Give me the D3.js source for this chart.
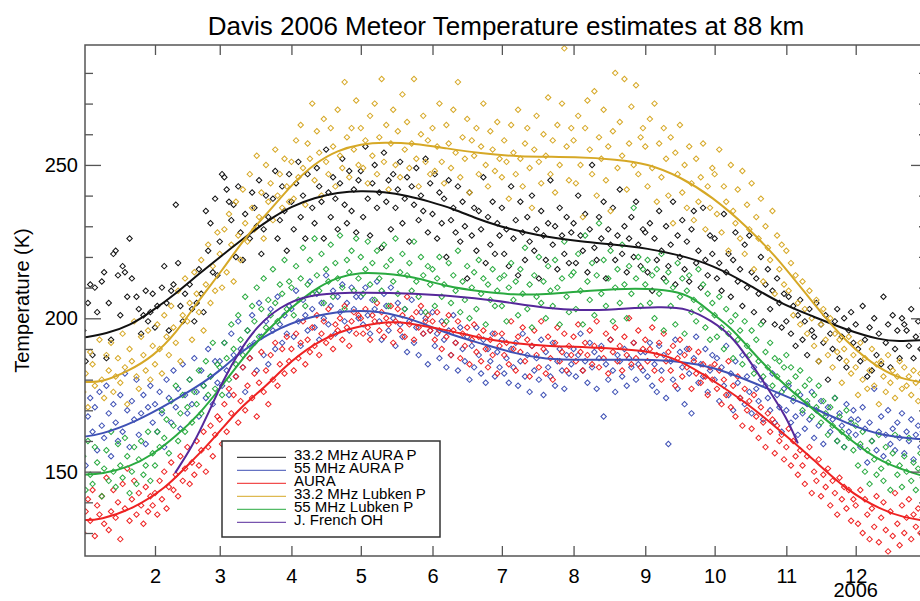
<!DOCTYPE html>
<html>
<head>
<meta charset="utf-8">
<script src="https://cdn.jsdelivr.net/npm/d3@7"></script>
<style>
  body { margin: 0; background: #fff; }
  svg { display: block; font-family: "Liberation Sans", Arial, Helvetica, sans-serif; }
</style>
</head>
<body>
<script>
// Daily temperature estimates (K), one row per month, null = no estimate that day

const blackT = [
  [196,186,205,211,188,210,202,null,212,215,187,205,193,221,222,214,201,217,215,207,226,213,null,207,203,195,201,209,199,202,208],
  [197,204,null,210,217,205,196,209,211,237,218,204,199,208,null,211,203,199,205,216,208,202,235,222,231,215,239,214],
  [225,247,246,242,238,232,237,220,243,228,219,234,null,226,241,236,230,245,221,229,240,233,null,239,248,226,232,243,235,222,247],
  [238,229,244,251,233,240,226,247,null,236,231,249,243,238,226,255,241,233,246,239,229,244,252,237,231,248,235,242,228,245],
  [248,233,256,239,227,244,250,236,241,223,254,238,245,229,247,236,242,251,231,239,246,225,243,237,249,232,240,235,252,228,244],
  [234,247,226,241,231,239,220,245,232,236,228,243,225,238,230,213,241,227,236,222,235,229,246,218,233,224,238,221,231,227],
  [236,221,229,217,243,226,232,214,238,228,219,233,225,240,222,229,213,235,227,219,231,245,224,230,216,236,227,221,233,218,228],
  [231,218,240,227,222,234,215,229,250,223,219,233,226,238,213,229,224,236,219,227,242,221,230,215,226,233,220,238,224,217,229],
  [228,215,231,209,226,219,235,222,213,230,217,224,238,211,227,220,232,216,225,212,229,235,218,222,210,236,219,214,227,221],
  [226,213,218,209,234,215,221,207,219,228,212,216,204,224,210,227,215,202,213,208,220,199,211,216,203,209,198,213,205,197,208],
  [199,207,195,204,191,201,206,193,199,188,203,196,194,205,186,198,192,201,180,195,190,199,203,187,194,200,184,196,202,192],
  [198,190,186,204,193,181,197,183,200,188,195,185,207,192,198,184,201,190,196,187,200,198,196,191,203,187,194,199,190,195,193]
];

const blueT = [
  [160,152,168,174,163,171,157,176,165,161,178,169,155,172,166,160,175,163,182,170,158,173,167,180,162,169,175,159,171,178,166],
  [172,163,176,169,158,180,174,166,183,171,177,164,185,175,169,180,172,187,176,168,183,178,174,190,181,172,186,179],
  [186,178,192,183,175,195,188,181,199,190,184,176,196,187,201,192,183,205,194,188,199,185,203,196,190,207,198,192,201,195,204],
  [203,194,209,199,191,206,201,196,212,203,197,208,193,205,200,214,198,204,209,195,207,202,211,199,205,196,210,203,207,200],
  [207,198,210,201,195,206,203,212,199,193,208,204,196,210,200,191,205,198,194,203,189,199,206,192,197,188,202,195,200,185,196],
  [202,191,195,187,199,193,184,196,188,201,192,183,197,190,186,194,180,191,184,197,188,182,193,179,190,186,195,181,189,184],
  [193,182,187,179,190,184,192,178,186,195,181,188,176,191,183,187,180,193,175,189,184,181,192,178,186,190,183,177,188,182,185],
  [190,181,188,195,183,186,179,192,184,189,177,187,191,168,185,180,193,183,176,188,186,181,190,178,187,184,192,180,185,189,183],
  [189,181,192,178,185,176,191,183,188,174,159,186,180,193,177,189,184,172,190,182,169,187,194,179,185,181,190,176,183,188],
  [180,187,173,184,178,191,175,182,170,186,179,174,188,172,181,176,169,184,177,173,180,167,178,174,170,182,166,175,171,163,177],
  [170,178,166,173,168,162,175,169,164,172,167,176,161,170,165,173,159,168,171,163,167,174,160,169,165,158,172,163,167,170],
  [162,167,158,171,164,153,166,160,177,157,163,168,155,162,170,159,164,157,166,161,169,156,163,160,167,154,162,165,158,163,160]
];

const redT = [
  [130,137,141,134,144,129,139,136,142,133,148,131,137,144,135,140,128,146,138,151,134,141,147,136,143,139,133,145,137,142,139],
  [143,136,147,141,150,138,145,153,144,149,142,155,147,151,158,146,153,149,160,152,157,163,150,158,165,155,162,168],
  [167,159,172,163,177,169,175,181,166,173,184,170,178,187,174,182,168,179,189,176,183,172,188,180,192,178,185,190,182,194,186],
  [190,183,195,187,192,199,185,193,189,197,191,201,188,195,199,192,203,194,190,198,196,200,193,204,197,191,199,202,195,201],
  [200,195,203,197,193,201,199,205,196,202,194,200,198,204,192,199,203,196,201,194,207,198,200,193,202,197,204,195,199,201,196],
  [199,193,202,196,190,198,194,201,188,196,192,199,187,195,191,197,185,193,198,189,194,186,196,190,184,193,188,195,182,191],
  [195,188,192,185,199,190,183,194,189,197,186,193,181,191,196,188,184,199,190,182,194,187,180,192,197,186,189,195,183,191,188],
  [194,186,198,189,183,192,188,196,185,191,199,184,190,187,195,182,193,189,197,186,191,183,194,188,200,185,192,187,196,184,190],
  [193,186,190,197,183,188,192,180,195,186,189,183,191,178,187,193,181,188,184,190,177,186,182,189,179,185,181,175,184,180],
  [185,177,183,172,180,175,186,171,178,168,181,174,165,177,170,173,164,175,168,161,171,166,158,169,163,167,156,165,160,162,154],
  [158,164,152,160,155,149,157,152,146,155,158,143,150,147,154,142,149,145,151,139,147,143,136,148,141,145,138,144,134,141],
  [139,133,144,130,141,136,128,138,132,142,127,135,140,131,124,137,129,143,133,126,139,130,135,141,128,136,132,138,130,135,133]
];

const goldT = [
  [176,182,171,189,185,178,null,193,180,174,188,183,192,176,181,187,179,195,184,172,190,186,199,181,177,194,188,183,196,180,191],
  [185,198,190,182,201,194,188,204,197,192,209,186,201,213,199,205,193,215,208,202,219,196,211,224,205,217,209,228],
  [221,210,229,215,234,224,212,238,227,219,242,231,225,247,236,229,253,233,241,226,250,238,244,232,255,240,247,236,252,243,238],
  [251,239,258,246,263,249,237,257,252,270,245,261,254,240,265,251,247,262,256,243,268,253,249,277,259,246,262,255,271,250],
  [262,249,258,244,266,253,270,247,259,278,251,263,242,257,268,250,261,246,273,255,264,249,257,278,252,243,260,266,251,258,247],
  [262,248,256,270,251,244,263,257,249,268,254,277,246,259,252,265,241,258,253,262,247,256,270,250,243,261,255,248,264,252],
  [246,258,251,239,263,254,247,268,252,243,257,262,249,236,255,266,251,244,260,253,272,247,258,241,263,250,270,288,256,245,262],
  [258,244,266,250,233,262,271,255,247,274,240,259,252,268,245,256,235,261,280,249,264,253,278,242,257,269,250,276,247,259,262],
  [256,243,265,249,270,238,257,246,262,252,240,259,231,254,247,263,241,250,236,256,244,232,252,238,246,257,229,243,236,249],
  [247,234,255,228,243,238,222,250,235,231,242,226,248,221,237,229,244,216,233,226,239,212,230,223,219,235,208,227,216,224,211],
  [222,209,218,201,214,205,198,212,203,195,209,200,191,206,186,198,203,193,188,200,184,195,189,193,179,190,186,194,182,188],
  [184,175,192,180,187,177,183,190,178,185,172,186,181,176,188,179,183,174,181,186,177,184,178,181,175,183,179,173,182,177,180]
];

const greenT = [
  [155,144,160,149,146,158,153,null,142,151,157,147,163,150,145,159,152,148,161,155,143,150,158,146,154,160,149,152,163,147,156],
  [152,163,158,170,161,167,156,173,165,178,160,169,175,163,171,180,166,176,172,183,169,178,186,175,181,192,177,185],
  [184,175,192,187,180,198,190,185,201,193,188,207,196,191,204,199,210,194,203,213,197,206,201,216,205,199,211,208,219,203,212],
  [210,201,217,206,213,223,204,211,219,208,226,214,209,221,205,216,212,224,207,218,213,227,210,203,219,215,222,209,226,213],
  [220,208,216,225,211,218,206,222,213,209,224,217,204,219,212,226,208,215,221,203,214,218,209,225,212,207,220,214,202,217,211],
  [216,204,213,220,207,211,199,218,205,214,209,222,202,212,206,217,200,210,215,203,219,208,213,198,211,206,216,204,209,213],
  [204,214,199,210,218,206,212,201,216,208,223,203,211,197,214,207,220,205,212,200,217,209,204,219,210,198,213,225,207,202,214],
  [215,203,221,209,198,227,212,206,218,201,214,231,208,219,204,213,222,199,210,216,205,224,211,200,217,208,236,213,220,204,216],
  [211,219,205,214,200,216,208,221,196,212,215,204,210,198,218,207,213,195,209,214,202,206,199,216,203,211,197,208,193,205],
  [201,194,207,197,190,203,195,199,187,201,193,196,185,199,191,188,196,182,193,186,198,181,189,184,192,178,187,181,186,176,184],
  [188,179,184,174,181,176,183,170,178,173,180,168,175,171,178,166,173,169,162,171,165,174,160,168,163,158,170,161,166,157],
  [165,152,159,163,150,157,146,160,154,149,162,151,147,158,153,144,156,162,149,152,145,155,150,161,147,153,144,151,156,148,150]
];

// Smoothed fits: [day of year (0 = Jan 1), temperature K]
const blackFit = [[0,193.7],[10,195],[20,197.5],[30,202.5],[40,208],[50,214.5],[60,220.5],[70,226.5],[80,232],[90,236.5],[100,239.3],[110,241],[120,241.6],[130,241.2],[140,240],[150,238],[160,235.7],[170,232.5],[180,230],[190,228.2],[200,226.6],[215,225],[230,224],[244,222.8],[258,220.6],[272,217.4],[287,211.4],[301,204.9],[316,200.5],[330,196.2],[345,192.9],[352,192.4],[364,192.9]];
const blueFit = [[0,161.4],[7,162],[22,166],[39,173],[53,179.5],[60,183.5],[68,189],[82,196],[97,200.5],[114,202.6],[128,202.4],[143,199.6],[157,195.1],[172,191.8],[186,188.6],[200,186.6],[215,186.4],[244,186.6],[258,185.9],[272,184.2],[287,179.9],[301,175.5],[316,170.7],[330,165.8],[345,161.6],[364,160.5]];
const redFit = [[0,134.2],[7,134.2],[22,138],[36,145],[43,150.5],[53,158],[60,164],[68,171],[80,178.5],[86,183.5],[99.5,191.8],[114,196.7],[128,198.6],[136,198.9],[143,198.1],[157,196.2],[172,193.5],[186,191.8],[200,191],[215,190.7],[244,189.7],[258,186.4],[272,179.9],[287,172.3],[301,163.6],[316,153.8],[330,144],[345,137.5],[355,135],[364,134]];
const goldFit = [[0,179.3],[8,179],[20,183],[30,187.5],[40,195],[50,206],[60,215.5],[70,226.5],[80,234.5],[90,243.5],[100,250.5],[110,254.8],[120,256.8],[130,257.4],[143,257],[157,255.4],[172,253.8],[186,252.7],[215,252.6],[230,251.8],[244,250.5],[258,246.2],[272,239.6],[287,229.9],[301,219],[316,204.5],[330,192],[345,183],[355,180],[364,179]];
const greenFit = [[0,149],[8,149.2],[20,151.5],[30,155.5],[40,161.5],[50,168.5],[60,178],[70,188],[80,196.5],[90,203.5],[100,209.5],[110,213.5],[120,215],[130,214.6],[143,213.6],[157,210.3],[172,208.7],[186,207.6],[200,207.8],[215,208.8],[230,209.6],[244,209.8],[258,208.7],[265,206],[272,201.5],[280,197],[287,191],[301,179.5],[316,170.1],[330,161.4],[345,152.7],[364,148.4]];
const purpleFit = [[39.7,149.6],[47,158],[53.4,167.9],[60.5,179.9],[67.8,189.7],[75,197.3],[85,203.8],[96.6,207.6],[114,208.5],[143,208.2],[171.5,206.5],[186,204.9],[200,203.3],[215,202.5],[229,202.9],[250,203.8],[261.5,203.3],[272,199],[280,194.5],[287,187.5],[295.5,177.7],[304,167.9],[309,159.2]];

const seriesNames = ["33.2 MHz AURA P", "55 MHz AURA P", "AURA", "33.2 MHz Lubken P", "55 MHz Lubken P", "J. French OH"];
const seriesColors = ["#111111", "#3f51b5", "#ee2222", "#d6a826", "#2aaa40", "#56289a"];
const seriesPoints = [blackT, blueT, redT, goldT, greenT, null];
const seriesFits = [blackFit, blueFit, redFit, goldFit, greenFit, purpleFit];

const majorTicks = [150, 200, 250];
const minorTicks = [130, 140, 160, 170, 180, 190, 210, 220, 230, 240, 260, 270, 280];

// ---------------------------------------------------------------

const W = 920, H = 601;
const plot = {left: 85, right: 927, top: 45, bottom: 556};
const DAY = 864e5;
const t0 = Date.UTC(2006, 0, 1);

const svg = d3.select("body").append("svg")
    .attr("width", W).attr("height", H);

const x = d3.scaleUtc()
    .domain([new Date(t0), new Date(Date.UTC(2007, 0, 1))])
    .range([83.3, 927.4]);

const y = d3.scaleLinear()
    .domain([122.5, 289.1])
    .range([plot.bottom, plot.top]);

svg.append("clipPath").attr("id", "clip")
  .append("rect")
    .attr("x", plot.left).attr("y", plot.top)
    .attr("width", plot.right - plot.left).attr("height", plot.bottom - plot.top);

const g = svg.append("g").attr("clip-path", "url(#clip)");

// scatter of daily estimates
seriesPoints.forEach((rows, k) => {
  if (!rows) return;
  const pts = [];
  rows.forEach((row, m) => row.forEach((v, i) => {
    if (v != null) pts.push({date: new Date(Date.UTC(2006, m, i + 1)), T: v});
  }));
  g.append("g").selectAll("path")
    .data(pts).enter()
    .append("path")
      .attr("d", d3.symbol(d3.symbolSquare, 15))
      .attr("transform", d => "translate(" + x(d.date) + "," + y(d.T) + ") rotate(45)")
      .attr("fill", "none")
      .attr("stroke", seriesColors[k])
      .attr("stroke-width", 1);
});

// smoothed fits
const line = d3.line()
    .x(d => x(new Date(t0 + d[0] * DAY)))
    .y(d => y(d[1]))
    .curve(d3.curveBasis);

seriesFits.forEach((fit, k) => {
  g.append("path")
    .attr("d", line(fit))
    .attr("fill", "none")
    .attr("stroke", seriesColors[k])
    .attr("stroke-width", 2);
});

// axes
const monthTicks = d3.utcMonths(new Date(Date.UTC(2006, 1, 1)), new Date(Date.UTC(2006, 11, 2)));
const axisColor = "#555";

function styleAxis(sel) {
  sel.select(".domain").remove();
  sel.selectAll("line").attr("stroke", axisColor).attr("stroke-width", 1.3);
  sel.selectAll("text").attr("font-size", 20).attr("fill", "#000")
     .attr("font-family", '"Liberation Sans", Arial, Helvetica, sans-serif');
}

svg.append("g")
    .attr("transform", "translate(0," + plot.bottom + ")")
    .call(d3.axisBottom(x).tickValues(monthTicks).tickSize(-10).tickPadding(13)
          .tickFormat(d3.utcFormat("%-m")))
    .call(styleAxis);

svg.append("g")
    .attr("transform", "translate(0," + plot.top + ")")
    .call(d3.axisTop(x).tickValues(monthTicks).tickSize(-10).tickFormat(""))
    .call(styleAxis);

svg.append("g")
    .attr("transform", "translate(" + plot.left + ",0)")
    .call(d3.axisLeft(y).tickValues(majorTicks).tickSize(-16).tickPadding(7))
    .call(styleAxis);

svg.append("g")
    .attr("transform", "translate(" + plot.left + ",0)")
    .call(d3.axisLeft(y).tickValues(minorTicks).tickSize(-8).tickFormat(""))
    .call(styleAxis);

svg.append("g")
    .attr("transform", "translate(" + plot.right + ",0)")
    .call(d3.axisRight(y).tickValues(majorTicks).tickSize(-16).tickFormat(""))
    .call(styleAxis);

svg.append("g")
    .attr("transform", "translate(" + plot.right + ",0)")
    .call(d3.axisRight(y).tickValues(minorTicks).tickSize(-8).tickFormat(""))
    .call(styleAxis);

svg.append("rect")
    .attr("x", plot.left).attr("y", plot.top)
    .attr("width", plot.right - plot.left).attr("height", plot.bottom - plot.top)
    .attr("fill", "none")
    .attr("stroke", axisColor)
    .attr("stroke-width", 1.5);

svg.append("text")
    .attr("x", x(new Date(Date.UTC(2006, 11, 1))))
    .attr("y", 597)
    .attr("text-anchor", "middle")
    .attr("font-size", 20)
    .text("2006");

svg.append("text")
    .attr("transform", "translate(29," + (plot.top + plot.bottom) / 2 + ") rotate(-90)")
    .attr("text-anchor", "middle")
    .attr("font-size", 20)
    .text("Temperature (K)");

svg.append("text")
    .attr("x", 506).attr("y", 35)
    .attr("text-anchor", "middle")
    .attr("font-size", 26)
    .text("Davis 2006 Meteor Temperature estimates at 88 km");

// legend
const legend = svg.append("g").attr("transform", "translate(222,441)");
legend.append("rect")
    .attr("width", 218).attr("height", 96)
    .attr("fill", "#fff")
    .attr("stroke", "#333")
    .attr("stroke-width", 1.5);

const items = legend.selectAll("g.item")
    .data(seriesNames).enter()
    .append("g")
      .attr("class", "item")
      .attr("transform", (d, i) => "translate(0," + (16.3 + i * 13) + ")");

items.append("line")
    .attr("x1", 15).attr("x2", 64)
    .attr("stroke", (d, i) => seriesColors[i])
    .attr("stroke-width", 1);

items.append("text")
    .attr("x", 72).attr("y", 3)
    .attr("font-size", 15)
    .text(d => d);
</script>
</body>
</html>
